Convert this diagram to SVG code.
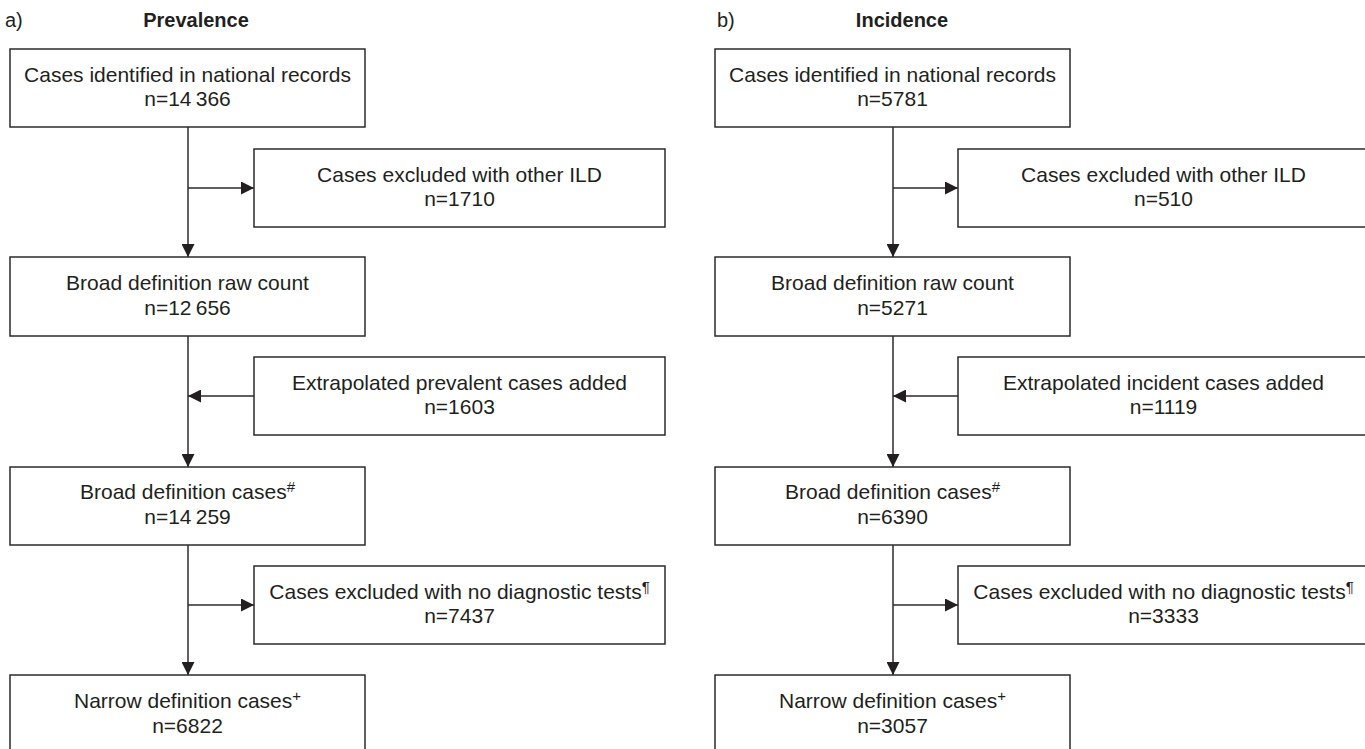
<svg xmlns="http://www.w3.org/2000/svg" width="1365" height="749" viewBox="0 0 1365 749">
<style>
.box{fill:#fff;stroke:#2b2b2b;stroke-width:1.5}
.t{font-family:"Liberation Sans",Arial,sans-serif;font-size:21px;fill:#231f20;text-anchor:middle}
.sup{font-size:15px}
.hd{font-family:"Liberation Sans",Arial,sans-serif;font-size:20px;fill:#231f20}
.hb{font-weight:bold;text-anchor:middle}
.c{fill:none;stroke:#2b2b2b;stroke-width:1.5}
</style>
<defs>
<marker id="ah" markerUnits="userSpaceOnUse" markerWidth="13" markerHeight="13" viewBox="0 0 13 13" refX="13" refY="6.5" orient="auto">
<path d="M0,0 L13,6.5 L0,13 Z" fill="#231f20"/>
</marker>
</defs>
<rect width="1365" height="749" fill="#fff"/>
<g id="headings">
<text class="hd" x="5" y="27">a)</text>
<text class="hd hb" x="196" y="27">Prevalence</text>
<text class="hd" x="717" y="27">b)</text>
<text class="hd hb" x="902" y="27">Incidence</text>
</g>
<g id="connectors">
<line class="c" x1="188" y1="127" x2="188" y2="257" marker-end="url(#ah)"/>
<line class="c" x1="188" y1="188" x2="254" y2="188" marker-end="url(#ah)"/>
<line class="c" x1="188" y1="336" x2="188" y2="467" marker-end="url(#ah)"/>
<line class="c" x1="254" y1="396" x2="188" y2="396" marker-end="url(#ah)"/>
<line class="c" x1="188" y1="545" x2="188" y2="675" marker-end="url(#ah)"/>
<line class="c" x1="188" y1="605" x2="254" y2="605" marker-end="url(#ah)"/>
<line class="c" x1="893" y1="127" x2="893" y2="257" marker-end="url(#ah)"/>
<line class="c" x1="893" y1="188" x2="958" y2="188" marker-end="url(#ah)"/>
<line class="c" x1="893" y1="336" x2="893" y2="467" marker-end="url(#ah)"/>
<line class="c" x1="958" y1="396" x2="893" y2="396" marker-end="url(#ah)"/>
<line class="c" x1="893" y1="545" x2="893" y2="675" marker-end="url(#ah)"/>
<line class="c" x1="893" y1="605" x2="958" y2="605" marker-end="url(#ah)"/>
</g>
<g id="a1"><rect class="box" x="10" y="49" width="355" height="78"/>
<text class="t" x="187.5" y="82">Cases identified in national records</text>
<text class="t" x="187.5" y="106">n=14&#8201;366</text></g>
<g id="a2"><rect class="box" x="254" y="149" width="411" height="78"/>
<text class="t" x="459.5" y="182">Cases excluded with other ILD</text>
<text class="t" x="459.5" y="206">n=1710</text></g>
<g id="a3"><rect class="box" x="10" y="257" width="355" height="79"/>
<text class="t" x="187.5" y="290">Broad definition raw count</text>
<text class="t" x="187.5" y="315">n=12&#8201;656</text></g>
<g id="a4"><rect class="box" x="254" y="357" width="411" height="78"/>
<text class="t" x="459.5" y="390">Extrapolated prevalent cases added</text>
<text class="t" x="459.5" y="414">n=1603</text></g>
<g id="a5"><rect class="box" x="10" y="467" width="355" height="78"/>
<text class="t" x="187.5" y="499">Broad definition cases<tspan class="sup" dy="-7">#</tspan></text>
<text class="t" x="187.5" y="524">n=14&#8201;259</text></g>
<g id="a6"><rect class="box" x="254" y="566" width="411" height="78"/>
<text class="t" x="459.5" y="599">Cases excluded with no diagnostic tests<tspan class="sup" dy="-7">¶</tspan></text>
<text class="t" x="459.5" y="623">n=7437</text></g>
<g id="a7"><rect class="box" x="10" y="675" width="355" height="80"/>
<text class="t" x="187.5" y="708">Narrow definition cases<tspan class="sup" dy="-7">+</tspan></text>
<text class="t" x="187.5" y="733">n=6822</text></g>
<g id="b1"><rect class="box" x="715" y="49" width="355" height="78"/>
<text class="t" x="892.5" y="82">Cases identified in national records</text>
<text class="t" x="892.5" y="106">n=5781</text></g>
<g id="b2"><rect class="box" x="958" y="149" width="411" height="78"/>
<text class="t" x="1163.5" y="182">Cases excluded with other ILD</text>
<text class="t" x="1163.5" y="206">n=510</text></g>
<g id="b3"><rect class="box" x="715" y="257" width="355" height="79"/>
<text class="t" x="892.5" y="290">Broad definition raw count</text>
<text class="t" x="892.5" y="315">n=5271</text></g>
<g id="b4"><rect class="box" x="958" y="357" width="411" height="78"/>
<text class="t" x="1163.5" y="390">Extrapolated incident cases added</text>
<text class="t" x="1163.5" y="414">n=1119</text></g>
<g id="b5"><rect class="box" x="715" y="467" width="355" height="78"/>
<text class="t" x="892.5" y="499">Broad definition cases<tspan class="sup" dy="-7">#</tspan></text>
<text class="t" x="892.5" y="524">n=6390</text></g>
<g id="b6"><rect class="box" x="958" y="566" width="411" height="78"/>
<text class="t" x="1163.5" y="599">Cases excluded with no diagnostic tests<tspan class="sup" dy="-7">¶</tspan></text>
<text class="t" x="1163.5" y="623">n=3333</text></g>
<g id="b7"><rect class="box" x="715" y="675" width="355" height="80"/>
<text class="t" x="892.5" y="708">Narrow definition cases<tspan class="sup" dy="-7">+</tspan></text>
<text class="t" x="892.5" y="733">n=3057</text></g>
</svg>
